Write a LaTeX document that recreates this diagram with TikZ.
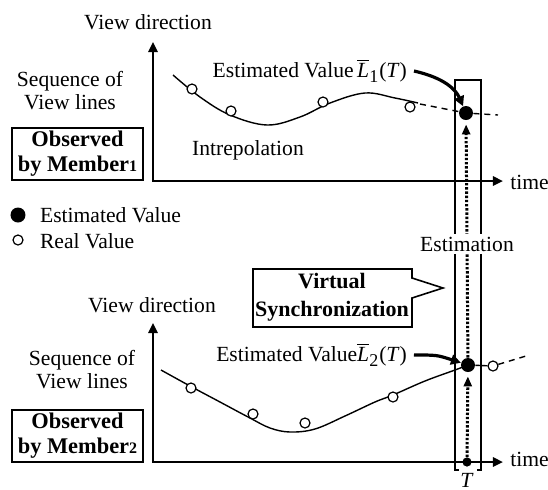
\documentclass[tikz,border=0pt]{standalone}
\usepackage{fontspec}
\setmainfont{Liberation Serif}
\usetikzlibrary{arrows.meta}

\begin{document}
\begin{tikzpicture}[x=0.5pt, y=-0.5pt, font=\fontsize{10.8}{11.5}\selectfont,
    axis/.style={line width=1.2pt, {Triangle[length=5pt,width=4.5pt]}-{Triangle[length=5pt,width=4.5pt]}},
    realval/.style={circle, draw, line width=0.6pt, fill=white, inner sep=0pt, minimum size=5pt},
    estval/.style={circle, fill=black, inner sep=0pt, minimum size=7pt},
    pointer/.style={line width=1.6pt, -{Triangle[length=5pt,width=5pt]}},
    estline/.style={line width=1.5pt, dash pattern=on 1.2pt off 0.9pt, shorten >=2pt, -{Triangle[length=5pt,width=4pt]}},
    trend/.style={line width=0.7pt},
    guess/.style={line width=0.7pt, dash pattern=on 3pt off 2.5pt},
    member/.style={draw, line width=0.6pt, font=\fontsize{11.2}{12.5}\selectfont\bfseries, align=center, minimum width=65.5pt, minimum height=26pt, inner sep=0pt}]

    \useasboundingbox (0,0) rectangle (548,489);

    % Top graph (Member 1)
    \coordinate (ytop1) at (153,42);
    \coordinate (xend1) at (503,181);
    \draw[axis] (ytop1) |- (xend1);
    \node (vdir1) at (148,22) {View direction};
    \node[right, inner sep=1pt] (time1) at (508,182) {time};
    \node[align=center] (seq1) at (70,91) {Sequence of\\View lines};
    \node[member] (obs1) at (77.5,154) {Observed\\by Member{\fontsize{8}{8}\selectfont 1}};
    \node (intrep) at (248,150) {Intrepolation};

    % interpolated curve
    \draw[trend] plot[smooth, tension=0.6] coordinates {(173,75) (200,97) (230,115) (267,125) (300,117) (330,103) (365,93) (395,98) (418,103)};
    \coordinate (end1) at (420,104);
    \coordinate (tail1) at (498,115);
    \node[estval] (est1) at (466,113) {};
    \draw[guess] (end1) -- (est1);
    \draw[guess] (est1) -- (tail1);
    \node[realval] (r11) at (192,89) {};
    \node[realval] (r12) at (231,111) {};
    \node[realval] (r13) at (323,102) {};
    \node[realval] (r14) at (410,107) {};

    \node[anchor=east] (lab1) at (414,71) {Estimated Value\,$\overline{\mbox{\itshape L}}_{\mbox{\small 1}}$(\textit{T})};
    \draw[pointer] (lab1.east) .. controls (445,78) and (456,90) .. (est1);

    % Legend
    \node[estval, minimum size=7.5pt] (legest) at (18,215) {};
    \node[right] (legesttxt) at (33,215) {Estimated Value};
    \node[realval, minimum size=5pt] (legreal) at (18,240) {};
    \node[right] (legrealtxt) at (33,241) {Real Value};

    % Bottom graph (Member 2)
    \coordinate (ytop2) at (153,323);
    \coordinate (xend2) at (503,462);
    \draw[axis] (ytop2) |- (xend2);
    \node (vdir2) at (152,305) {View direction};
    \node[right, inner sep=1pt] (time2) at (508,459) {time};
    \node[align=center] (seq2) at (82,370) {Sequence of\\View lines};
    \node[member] (obs2) at (77.5,436) {Observed\\by Member{\fontsize{8}{8}\selectfont 2}};

    \node[estval] (est2) at (468,365) {};
    \draw[trend] plot[smooth, tension=0.6] coordinates {(161,370) (190,386) (220,402) (250,418) (270,428) (290,432) (315,429) (345,416) (375,402) (393,395) (425,381) (455,370) (468,365)};
    \node[realval] (r25) at (493,366) {};
    \coordinate (tail2) at (526,356);
    \draw[trend] (est2) -- (r25);
    \draw[guess] (r25) -- (tail2);
    \node[realval] (r21) at (191,388) {};
    \node[realval] (r22) at (253,414) {};
    \node[realval] (r23) at (305,423) {};
    \node[realval] (r24) at (393,397) {};

    \node[anchor=east] (lab2) at (414,355) {Estimated Value$\overline{\mbox{\itshape L}}_{\mbox{\small 2}}$(\textit{T})};
    \draw[pointer] (lab2.east) .. controls (437,355) .. (est2);

    % Virtual synchronization callout
    \draw[line width=0.8pt] (253,269) -- (412,269) -- (412,278) -- (443,288) -- (412,298) -- (412,327) -- (253,327) -- cycle;
    \node[font=\fontsize{11}{14}\selectfont\bfseries, align=center] (vsync) at (332,297) {Virtual\\Synchronization};

    % Time T and estimation column
    \draw[line width=0.8pt] (459,470) -- (455,470) -- (455,80) -- (481,80) -- (481,470) -- (477,470);
    \node[estval, minimum size=4.6pt] (tdot) at (467,462) {};
    \node (tlab) at (467,480) {\textit{T}};
    \draw[estline] (tdot) -- (est2);
    \draw[estline] (est2) -- (est1);
    \node[fill=white, inner sep=1.5pt] (estim) at (467,244) {Estimation};

\end{tikzpicture}
\end{document}
